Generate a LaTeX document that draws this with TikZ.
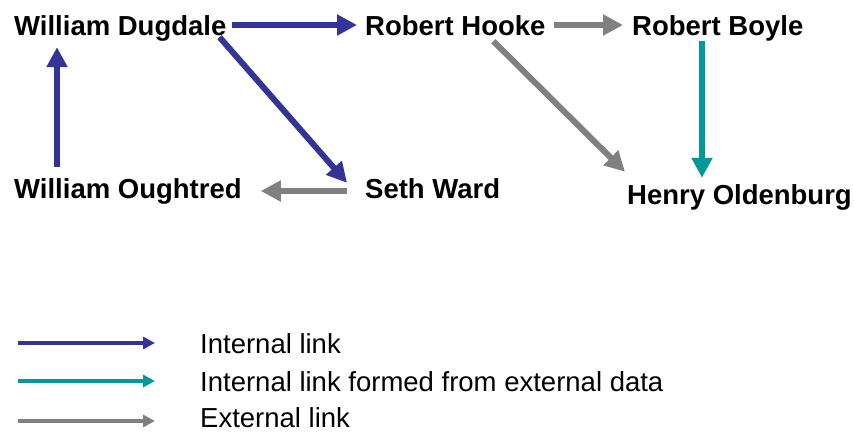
\documentclass[tikz,border=0pt]{standalone}
\usepackage{fontspec}
\setmainfont{Liberation Sans}
\usetikzlibrary{arrows.meta}
\definecolor{intblue}{HTML}{333399}
\definecolor{exgray}{HTML}{808080}
\definecolor{formteal}{HTML}{009999}
\begin{document}
\begin{tikzpicture}
  [x=1pt, y=-1pt,
   person/.style={anchor=base west, inner sep=0pt, text height=20pt, text depth=6pt,
                  font=\fontsize{27.5}{30}\selectfont\bfseries},
   legendtext/.style={anchor=base west, inner sep=0pt, text height=20pt, text depth=1pt,
                      font=\fontsize{27.5}{30}\selectfont},
   link/.style={line width=6pt, -{Triangle[width=20pt,length=20pt]}},
   keylink/.style={line width=4pt, -{Triangle[width=12pt,length=12pt]}},
   internal/.style={draw=intblue, fill=intblue},
   external/.style={draw=exgray, fill=exgray},
   formed/.style={draw=formteal, fill=formteal}]
  \useasboundingbox (0,0) rectangle (854,434);
  % people
  \node[person] (dugdale) at (14,35) {William Dugdale};
  \node[person] (hooke) at (365,35) {Robert Hooke};
  \node[person] (boyle) at (632,35) {Robert Boyle};
  \node[person] (oughtred) at (14,198) {William Oughtred};
  \node[person] (ward) at (365,198) {Seth Ward};
  \node[person] (oldenburg) at (627,204) {Henry Oldenburg};
  % links
  \draw[link, internal, shorten <=5pt, shorten >=8pt]
     ([yshift=3pt]dugdale.east) -- ([yshift=3pt]hooke.west);
  \draw[link, internal]
     ([xshift=-7pt,yshift=4pt]dugdale.south east) -- ([xshift=-18pt,yshift=-5pt]ward.north west);
  \draw[link, internal, shorten <=11pt, shorten >=6pt]
     ([xshift=43pt]oughtred.north west) -- ([xshift=43pt]dugdale.south west);
  \draw[link, external, shorten <=18pt, shorten >=19pt]
     (ward.west) -- (oughtred.east);
  \draw[link, external, shorten <=8pt, shorten >=9pt]
     ([yshift=3pt]hooke.east) -- ([yshift=3pt]boyle.west);
  \draw[link, external]
     ([xshift=38pt]hooke.south) -- ([xshift=-2pt,yshift=12pt]oldenburg.north west);
  \draw[link, formed, shorten >=6pt]
     ([xshift=70pt]boyle.south west) coordinate (b1) -- (b1 |- oldenburg.north);
  % legend
  \coordinate (k1) at (18,343);
  \coordinate (k2) at (18,381);
  \coordinate (k3) at (18,421);
  \draw[keylink, internal] (k1) -- ++(137,0);
  \draw[keylink, formed] (k2) -- ++(137,0);
  \draw[keylink, external] (k3) -- ++(137,0);
  \node[legendtext] (t1) at (200,353) {Internal link};
  \node[legendtext] (t2) at (200,391) {Internal link formed from external data};
  \node[legendtext] (t3) at (200,427) {External link};
\end{tikzpicture}
\end{document}
